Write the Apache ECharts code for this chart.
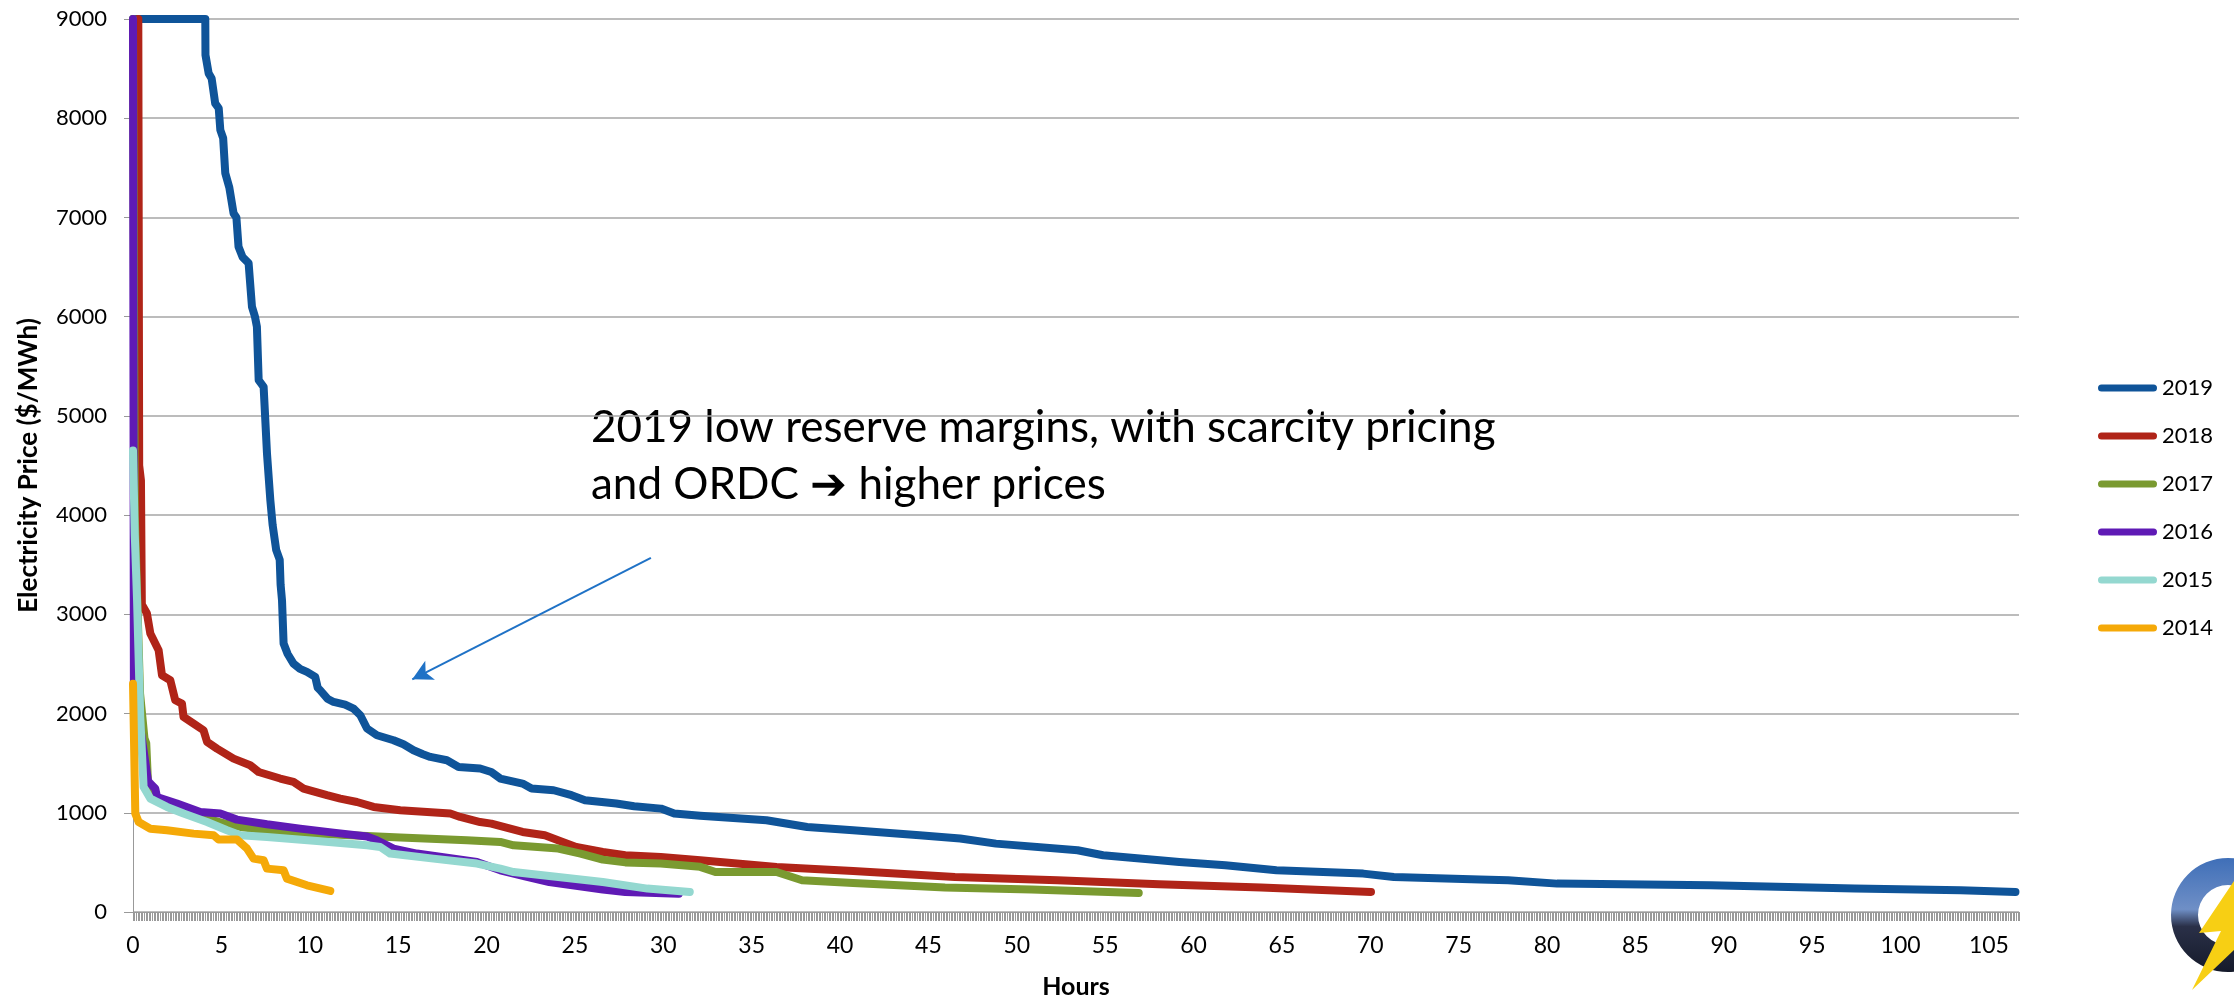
<!DOCTYPE html>
<html>
<head>
<meta charset="utf-8">
<title>Electricity price duration</title>
<script src="https://cdn.jsdelivr.net/npm/echarts@6/dist/echarts.min.js"></script>
<style>
  html, body { margin: 0; padding: 0; background: #fff; }
  #main { width: 2234px; height: 998px; }
</style>
</head>
<body>
<div id="main"></div>
<script>
// years shown in the legend, top to bottom
const years = ['2019', '2018', '2017', '2016', '2015', '2014'];
const colors = ['#0f5499', '#b02418', '#7a9a30', '#5f1ab5', '#94d8d0', '#f5a908'];

// [hours, $/MWh]
const s2019 = [[0,9000],[4.09,9000],[4.1,8637],[4.28,8452],[4.45,8400],[4.65,8150],[4.85,8100],[4.94,7881],
  [5.1,7800],[5.22,7447],[5.45,7300],[5.69,7041],[5.85,7000],[5.97,6704],[6.2,6600],[6.54,6540],[6.73,6100],
  [6.9,6000],[7.01,5898],[7.11,5360],[7.39,5293],[7.58,4621],[7.77,4150],[7.9,3900],[8.1,3650],[8.3,3550],
  [8.35,3300],[8.43,3142],[8.52,2706],[8.75,2600],[9.08,2504],[9.45,2450],[9.84,2420],[10.31,2369],
  [10.45,2260],[10.59,2235],[11.0,2150],[11.35,2117],[12.0,2090],[12.48,2050],[12.86,1983],[13.24,1849],
  [13.8,1781],[14.74,1731],[15.3,1690],[15.87,1630],[16.4,1590],[16.82,1563],[17.76,1529],[18.42,1462],
  [19.64,1446],[20.27,1411],[20.78,1345],[22.04,1294],[22.55,1244],[23.8,1227],[24.81,1177],[25.57,1126],
  [27.34,1093],[28.35,1066],[29.87,1042],[30.62,992],[32.09,970],[35.84,924],[38.14,857],[40.74,824],
  [44.5,773],[46.8,740],[48.82,689],[53.44,622],[54.88,572],[59.2,504],[61.8,471],[64.69,420],[69.6,387],
  [71.33,353],[76.2,327],[77.8,320],[80.56,286],[89.26,269],[97.4,236],[103.4,219],[106.5,202]];

const s2018 = [[0.3,9000],[0.35,4500],[0.45,4350],[0.5,3100],[0.79,3008],[0.98,2807],[1.45,2638],[1.64,2386],
  [2.11,2336],[2.39,2134],[2.77,2101],[2.86,1966],[3.43,1899],[3.99,1832],[4.19,1714],[4.75,1647],[5.69,1546],
  [6.63,1479],[7.11,1411],[8.33,1345],[9.08,1311],[9.65,1244],[10.97,1177],[11.73,1143],[12.67,1109],
  [13.61,1059],[15.12,1025],[17.95,992],[18.51,958],[19.64,907],[20.27,891],[22.04,807],[23.3,773],
  [24.31,706],[25.07,655],[26.58,605],[27.85,572],[29.86,554],[32.09,521],[36.41,454],[40.74,413],
  [46.5,353],[52.3,320],[58.05,279],[63.82,246],[70.04,202]];

const s2017 = [[0,9000],[0.1,4000],[0.4,2200],[0.65,1750],[0.75,1700],[0.85,1300],[0.98,1159],[1.92,1093],
  [3.81,958],[5,900],[6.07,857],[8.52,800],[11.35,780],[15.12,750],[18.89,723],[20.78,706],[21.53,672],
  [24.06,639],[25.32,589],[26.58,528],[27.85,500],[29.86,488],[32.09,455],[32.95,403],[36.41,403],
  [37.85,320],[40.74,292],[45.94,246],[50.84,226],[56.9,192]];

const s2016 = [[0,9000],[0.05,2300],[0.85,1320],[0.98,1294],[1.26,1244],[1.36,1159],[2.49,1093],[3.81,1008],
  [4.94,992],[5.88,931],[7.58,884],[9.46,840],[11.35,800],[13.24,760],[13.8,723],[14.74,639],[16.06,589],
  [19.46,504],[20.78,420],[22.29,353],[23.55,302],[26.58,226],[27.85,202],[30.88,185]];

const s2015 = [[0,4650],[0.1,3800],[0.23,3142],[0.41,1966],[0.6,1260],[0.98,1143],[1.92,1059],[2.86,992],
  [4.19,907],[5.32,824],[6.07,773],[7.58,756],[10.41,716],[13.24,672],[13.99,655],[14.55,589],[17,538],
  [19.46,488],[20.78,437],[21.53,403],[24.06,353],[26.58,302],[29.1,236],[31.5,202]];

const s2014 = [[0,2300],[0.13,992],[0.32,907],[0.98,840],[1.92,824],[3.43,790],[4.56,773],[4.84,730],
  [5.88,730],[6.45,639],[6.82,538],[7.39,521],[7.58,437],[8.52,420],[8.71,336],[9.84,269],[11.16,212]];

const seriesData = [s2019, s2018, s2017, s2016, s2015, s2014];

// annotation arrow, in chart values [hours, $/MWh]
const arrowFrom = [29.3, 3570];
const arrowTo = [15.8, 2345];

const chart = echarts.init(document.getElementById('main'));
const font = 'Lato, "Open Sans", sans-serif';

const series = years.map(function (y, i) {
  const s = {
    name: y,
    type: 'line',
    data: seriesData[i],
    symbol: 'none',
    showSymbol: false,
    clip: false,
    color: colors[i],
    lineStyle: { width: 8, color: colors[i], cap: 'round', join: 'round' }
  };
  if (i === 0) {
    s.markLine = {
      silent: true,
      symbol: ['none', 'arrow'],
      symbolSize: [16, 20],
      label: { show: false },
      lineStyle: { color: '#1f72c6', width: 2, type: 'solid' },
      data: [[{ coord: arrowFrom }, { coord: arrowTo }]]
    };
  }
  return s;
});

const legendIcon = 'path://M3.5,0 L55.5,0 A3.5,3.5 0 0 1 55.5,7 L3.5,7 A3.5,3.5 0 0 1 3.5,0 Z';

chart.setOption({
  animation: false,
  backgroundColor: '#fff',
  textStyle: { fontFamily: font },
  grid: { left: 133, right: 215, top: 19, bottom: 86, outerBoundsMode: 'none' },
  legend: {
    orient: 'vertical',
    left: 2093,
    top: 371,
    icon: legendIcon,
    itemWidth: 59,
    itemHeight: 7,
    itemGap: 24,
    selectedMode: false,
    data: years,
    textStyle: { fontSize: 22, color: '#000', lineHeight: 24, fontFamily: font }
  },
  xAxis: {
    type: 'value',
    min: 0,
    max: 106.7,
    interval: 5,
    name: 'Hours',
    nameLocation: 'middle',
    nameGap: 62,
    nameTextStyle: { fontSize: 25, fontWeight: 'bold', color: '#000' },
    splitLine: { show: false },
    axisLine: { lineStyle: { color: '#999', width: 1 } },
    axisTick: { show: true, length: 9, lineStyle: { color: '#999' } },
    minorTick: { show: true, splitNumber: 55, length: 9, lineStyle: { color: '#999', width: 1 } },
    axisLabel: {
      margin: 22,
      fontSize: 23,
      color: '#000',
      formatter: function (v) { return v % 5 === 0 ? String(v) : ''; }
    }
  },
  yAxis: {
    type: 'value',
    min: 0,
    max: 9000,
    interval: 1000,
    name: 'Electricity Price ($/MWh)',
    nameLocation: 'middle',
    nameGap: 91,
    nameTextStyle: { fontSize: 26, fontWeight: 'bold', color: '#000' },
    axisLine: { show: true, lineStyle: { color: '#999', width: 1 } },
    axisTick: { show: true, length: 9, lineStyle: { color: '#999' } },
    splitLine: { lineStyle: { color: '#a6a6a6', width: 1.5 } },
    axisLabel: {
      margin: 26,
      fontSize: 22,
      color: '#000',
      formatter: function (v) { return String(v); }
    }
  },
  graphic: [
    {
      type: 'text',
      left: 591,
      top: 399,
      silent: true,
      style: {
        text: '2019 low reserve margins, with scarcity pricing\nand ORDC \u2794 higher prices',
        font: '44px ' + font,
        lineHeight: 57,
        fill: '#000'
      }
    },
    {
      // logo, partly off the right edge
      type: 'group',
      silent: true,
      children: [
        {
          type: 'ring',
          shape: { cx: 2228, cy: 915, r: 57, r0: 30 },
          style: {
            fill: new echarts.graphic.LinearGradient(0, 0, 0, 1, [
              { offset: 0, color: '#3f6fb8' },
              { offset: 0.45, color: '#6f8fc6' },
              { offset: 0.6, color: '#2a3048' },
              { offset: 1, color: '#151a2a' }
            ])
          }
        },
        {
          type: 'polygon',
          shape: { points: [[2236, 878], [2199, 933], [2221, 931], [2192, 990], [2236, 948]] },
          style: { fill: '#f7cf14' }
        }
      ]
    }
  ],
  series: series
});
</script>
</body>
</html>
